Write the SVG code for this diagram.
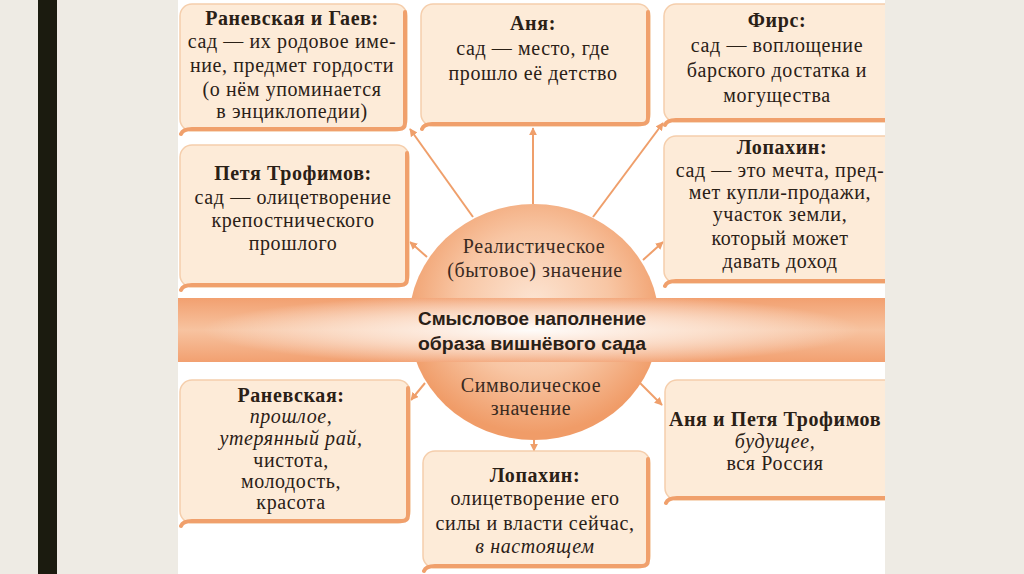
<svg xmlns="http://www.w3.org/2000/svg" width="1024" height="574" viewBox="0 0 1024 574">
<defs>
<style>
.bx{fill:#fdebd8;stroke:#f5ceac;stroke-width:1.5}
.sh{fill:none;stroke:#f0a06c;stroke-width:4;stroke-linecap:round;stroke-linejoin:round}
.t{font-family:"Liberation Serif","Times New Roman",serif;font-size:20px;letter-spacing:0.6px;fill:#2a2016;text-anchor:middle}
.b{font-weight:bold}
.i{font-style:italic}
.c{font-family:"Liberation Serif","Times New Roman",serif;font-size:20px;letter-spacing:0.6px;fill:#3a2a1f;text-anchor:middle}
.bd{font-family:"Liberation Sans",Arial,sans-serif;font-weight:bold;font-size:18px;fill:#2a2016;text-anchor:middle}
.ar{stroke:#ef9f6b;stroke-width:2;fill:none;marker-end:url(#ah)}
</style>
<marker id="ah" viewBox="0 0 10 10" refX="9" refY="5" markerWidth="8" markerHeight="8" markerUnits="userSpaceOnUse" orient="auto">
<path d="M0,0 L10,5 L0,10 z" fill="#ef9f6b"/>
</marker>
<clipPath id="panel"><rect x="178" y="0" width="707" height="574"/></clipPath>
<radialGradient id="circ" cx="50%" cy="42%" r="55%">
<stop offset="0" stop-color="#fce4d2"/>
<stop offset="0.55" stop-color="#f8c6a4"/>
<stop offset="1" stop-color="#f09c68"/>
</radialGradient>
<linearGradient id="bandV" x1="0" y1="0" x2="0" y2="1">
<stop offset="0" stop-color="#f2a070"/>
<stop offset="0.5" stop-color="#f7c3a0"/>
<stop offset="1" stop-color="#f2a070"/>
</linearGradient>
<radialGradient id="bandR" gradientUnits="userSpaceOnUse" cx="532" cy="330" r="330" gradientTransform="translate(532,330) scale(1,0.11) translate(-532,-330)">
<stop offset="0" stop-color="#ffffff" stop-opacity="0.95"/>
<stop offset="0.5" stop-color="#fff6ef" stop-opacity="0.6"/>
<stop offset="1" stop-color="#ffffff" stop-opacity="0"/>
</radialGradient>
</defs>
<rect x="0" y="0" width="1024" height="574" fill="#eeebe4"/>
<rect x="38" y="0" width="19" height="574" fill="#1b1b0f"/>
<rect x="178" y="0" width="707" height="574" fill="#ffffff"/>
<g clip-path="url(#panel)">
<g id="center">
<ellipse cx="534" cy="322" rx="125" ry="118" fill="url(#circ)"/>
<rect x="178" y="298" width="707" height="64" fill="url(#bandV)"/>
<rect x="178" y="298" width="707" height="64" fill="url(#bandR)"/>
<text class="c" x="534" y="253">Реалистическое</text>
<text class="c" x="535" y="277">(бытовое) значение</text>
<text class="bd" x="532" y="325" textLength="228" lengthAdjust="spacingAndGlyphs">Смысловое наполнение</text>
<text class="bd" x="532" y="350" textLength="228" lengthAdjust="spacingAndGlyphs">образа  вишнёвого сада</text>
<text class="c" x="531" y="392">Символическое</text>
<text class="c" x="531" y="415">значение</text>
</g>
<g id="connectors">
<line class="ar" x1="473" y1="217" x2="410" y2="129"/>
<line class="ar" x1="533" y1="204" x2="533" y2="128"/>
<line class="ar" x1="593" y1="217" x2="663" y2="123"/>
<line class="ar" x1="427" y1="257" x2="410" y2="242"/>
<line class="ar" x1="643" y1="260" x2="663" y2="242"/>
<line class="ar" x1="425" y1="383" x2="411" y2="400"/>
<line class="ar" x1="640" y1="383" x2="662" y2="405"/>
<line class="ar" x1="534" y1="440" x2="534" y2="451"/>
</g>
<g id="ranevskaya-gaev">
<rect class="bx" x="180" y="4" width="227" height="127" rx="12"/>
<path class="sh" d="M405,12 L405,123 Q405,129 399,129 L192,129 Q183,129 181,134"/>
<text class="t b" x="292" y="25">Раневская и Гаев:</text>
<text class="t" x="292" y="48">сад — их родовое име-</text>
<text class="t" x="292" y="72">ние, предмет гордости</text>
<text class="t" x="292" y="96">(о нём упоминается</text>
<text class="t" x="292" y="118">в энциклопедии)</text>
</g>
<g id="anya">
<rect class="bx" x="421" y="4" width="229" height="122" rx="12"/>
<path class="sh" d="M648,12 L648,118 Q648,124 642,124 L432,124 Q424,124 422,129"/>
<text class="t b" x="533" y="30">Аня:</text>
<text class="t" x="533" y="55">сад — место, где</text>
<text class="t" x="533" y="80">прошло её детство</text>
</g>
<g id="firs">
<rect class="bx" x="664" y="4" width="236" height="118" rx="12"/>
<path class="sh" d="M890,120 L676,120 Q667,120 665,125"/>
<text class="t b" x="777" y="27">Фирс:</text>
<text class="t" x="777" y="52">сад — воплощение</text>
<text class="t" x="777" y="77">барского достатка и</text>
<text class="t" x="777" y="102">могущества</text>
</g>
<g id="petya">
<rect class="bx" x="180" y="145" width="229" height="142" rx="12"/>
<path class="sh" d="M407,153 L407,279 Q407,285 401,285 L192,285 Q183,285 181,290"/>
<text class="t b" x="293" y="180">Петя Трофимов:</text>
<text class="t" x="293" y="204">сад — олицетворение</text>
<text class="t" x="293" y="227">крепостнического</text>
<text class="t" x="293" y="250">прошлого</text>
</g>
<g id="lopakhin-real">
<rect class="bx" x="664" y="136" width="236" height="147" rx="12"/>
<path class="sh" d="M890,281 L676,281 Q667,281 665,286"/>
<text class="t b" x="782" y="154">Лопахин:</text>
<text class="t" x="780" y="177">сад — это мечта, пред-</text>
<text class="t" x="780" y="199">мет купли-продажи,</text>
<text class="t" x="780" y="221">участок земли,</text>
<text class="t" x="780" y="245">который может</text>
<text class="t" x="780" y="268">давать доход</text>
</g>
<g id="ranevskaya-symb">
<rect class="bx" x="180" y="380" width="230" height="143" rx="12"/>
<path class="sh" d="M408,388 L408,515 Q408,521 402,521 L192,521 Q183,521 181,526"/>
<text class="t b" x="291" y="402">Раневская:</text>
<text class="t i" x="291" y="423">прошлое,</text>
<text class="t i" x="291" y="445">утерянный рай,</text>
<text class="t" x="291" y="467">чистота,</text>
<text class="t" x="291" y="488">молодость,</text>
<text class="t" x="291" y="509">красота</text>
</g>
<g id="lopakhin-symb">
<rect class="bx" x="423" y="451" width="227" height="117" rx="12"/>
<path class="sh" d="M648,459 L648,560 Q648,566 642,566 L435,566 Q426,566 424,571"/>
<text class="t b" x="535" y="482">Лопахин:</text>
<text class="t" x="535" y="505">олицетворение его</text>
<text class="t" x="535" y="530">силы и власти сейчас,</text>
<text class="t i" x="535" y="553">в настоящем</text>
</g>
<g id="anya-petya">
<rect class="bx" x="665" y="380" width="235" height="120" rx="12"/>
<path class="sh" d="M890,498 L677,498 Q668,498 666,503"/>
<text class="t b" x="775" y="426">Аня и Петя Трофимов</text>
<text class="t i" x="775" y="448">будущее,</text>
<text class="t" x="775" y="470">вся Россия</text>
</g>
</g>
</svg>
